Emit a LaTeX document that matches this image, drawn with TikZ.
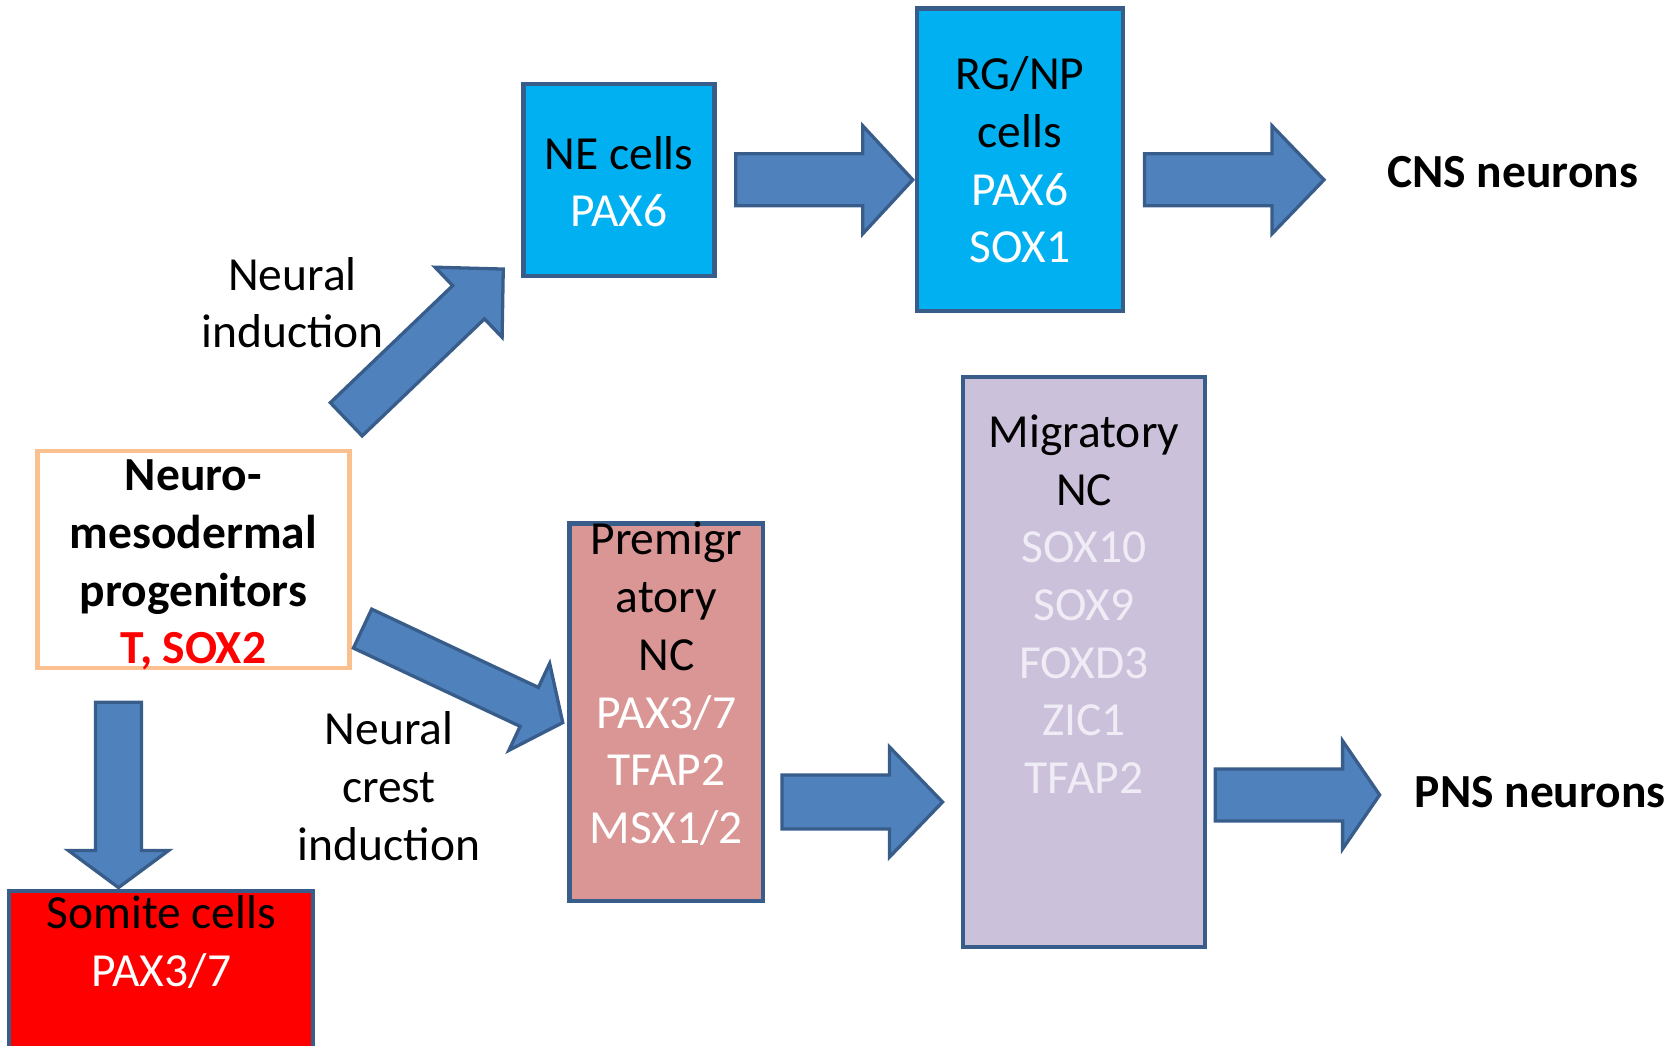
\documentclass[tikz,border=0pt]{standalone}
\usepackage{fontspec}
\setmainfont{Carlito}
\usetikzlibrary{calc}

\definecolor{arrowfill}{RGB}{79,129,189}
\definecolor{arrowline}{RGB}{56,93,138}
\definecolor{cyanfill}{RGB}{0,176,240}
\definecolor{premigfill}{RGB}{217,150,148}
\definecolor{migfill}{RGB}{204,193,218}
\definecolor{peach}{RGB}{250,192,144}
\definecolor{lavtext}{RGB}{240,236,246}

\newcommand{\cellfont}{\fontsize{47.5pt}{57.7pt}\selectfont}

\tikzset{
  cellbox/.style={draw=arrowline, line width=4.5pt, rectangle, inner sep=0pt},
  celltext/.style={anchor=north, align=center, inner sep=0pt, font=\cellfont, execute at begin node=\strut},
  endtext/.style={anchor=base west, inner sep=0pt, font=\cellfont\bfseries},
  blockarrow/.style n args={3}{draw=arrowline, fill=arrowfill, line width=3.3pt, line join=miter,
    to path={($(\tikztostart)!#1!90:(\tikztotarget)$)
      -- ($(\tikztotarget)!#3!(\tikztostart)!#1!90:(\tikztotarget)$)
      -- ($(\tikztotarget)!#3!(\tikztostart)!#2!90:(\tikztotarget)$)
      -- (\tikztotarget)
      -- ($(\tikztotarget)!#3!(\tikztostart)!#2!-90:(\tikztotarget)$)
      -- ($(\tikztotarget)!#3!(\tikztostart)!#1!-90:(\tikztotarget)$)
      -- ($(\tikztostart)!#1!-90:(\tikztotarget)$) -- cycle}}
}

\begin{document}
\begin{tikzpicture}[x=1pt,y=-1pt]
\useasboundingbox (0,0) rectangle (1680,1045);
\clip (0,0) rectangle (1680,1045);

%Shape: Rectangle (progenitors)
\node (nmp) [cellbox, draw=peach, fill=white, minimum width=312pt, minimum height=216.7pt] at (193.5,559.4) {};
%Shape: Rectangle (somite)
\node (somite) [cellbox, fill=red, minimum width=304pt, minimum height=169.2pt] at (161.2,975.4) {};
%Shape: Rectangle (NE)
\node (ne) [cellbox, fill=cyanfill, minimum width=191pt, minimum height=192pt] at (619,179.8) {};
%Shape: Rectangle (RG/NP)
\node (rg) [cellbox, fill=cyanfill, minimum width=205.8pt, minimum height=302.5pt] at (1019.9,159.6) {};
%Shape: Rectangle (premigratory)
\node (premig) [cellbox, fill=premigfill, minimum width=193.8pt, minimum height=377.5pt] at (666.3,712) {};
%Shape: Rectangle (migratory)
\node (mig) [cellbox, fill=migfill, minimum width=242.2pt, minimum height=569.8pt] at (1083.9,661.9) {};

% Text Node
\node (cns) [endtext] at (1387,187) {CNS neurons};
% Text Node
\node (pns) [endtext] at (1414.6,807.5) {PNS neurons};

%Block Arrows
\coordinate (ni-a) at ([shift={(-5.5,-29.5)}]nmp.north east);
\coordinate (ni-b) at ([shift={(-18,-9)}]ne.south west);
\draw [blockarrow={23pt}{48.5pt}{48pt}] (ni-a) to (ni-b);

\coordinate (nci-a) at ([shift={(10.8,-41.4)}]nmp.south east);
\coordinate (nci-b) at ([shift={(-4.4,10.6)}]premig.west);
\draw [blockarrow={21.5pt}{48pt}{37pt}] (nci-a) to (nci-b);

\coordinate (som-a) at ([shift={(-75,32.3)}]nmp.south);
\coordinate (som-b) at ([shift={(0,-1)}]som-a |- somite.north);
\draw [blockarrow={23pt}{50pt}{37pt}] (som-a) to (som-b);

\coordinate (ner-a) at ([shift={(19,0)}]ne.east);
\coordinate (ner-b) at ([shift={(-2,0)}]rg.west |- ne.east);
\draw [blockarrow={26pt}{54pt}{50pt}] (ner-a) to (ner-b);

\coordinate (rgc-a) at ([shift={(19.5,0)}]rg.east |- ne.east);
\coordinate (rgc-b) at ([shift={(-63,0)}]cns.base west |- ne.east);
\draw [blockarrow={26pt}{54pt}{52pt}] (rgc-a) to (rgc-b);

\coordinate (pmm-a) at ([shift={(16.5,90)}]premig.east);
\coordinate (pmm-b) at ([shift={(-18,0)}]mig.west |- pmm-a);
\draw [blockarrow={27pt}{55pt}{53pt}] (pmm-a) to (pmm-b);

\coordinate (mpn-a) at ([shift={(8,133)}]mig.east);
\coordinate (mpn-b) at ([shift={(-35,0)}]pns.base west |- mpn-a);
\draw [blockarrow={26pt}{54pt}{37pt}] (mpn-a) to (mpn-b);

% Text Node
\node (nmp-t) [celltext, font=\cellfont\bfseries] at (193.5,459.6) {Neuro-\\mesodermal\\progenitors\\\textcolor{red}{T, SOX2}};
% Text Node
\node (somite-t) [celltext] at (161.2,895.6) {Somite cells\\\textcolor{white}{PAX3/7}};
% Text Node
\node (ne-t) [celltext] at (619,136.1) {NE cells\\\textcolor{white}{PAX6}};
% Text Node
\node (rg-t) [celltext] at (1019.9,56.6) {RG/NP\\cells\\\textcolor{white}{PAX6}\\\textcolor{white}{SOX1}};
% Text Node
\node (premig-t) [celltext] at (666.4,522.1) {Premigr\\atory\\NC\\\textcolor{white}{PAX3/7}\\\textcolor{white}{TFAP2}\\\textcolor{white}{MSX1/2}};
% Text Node
\node (mig-t) [celltext] at (1084,414.6) {Migratory\\NC\\\textcolor{lavtext}{SOX10}\\\textcolor{lavtext}{SOX9}\\\textcolor{lavtext}{FOXD3}\\\textcolor{lavtext}{ZIC1}\\\textcolor{lavtext}{TFAP2}};
% Text Node
\node (ni-t) [celltext] at (292.5,257.1) {Neural\\induction};
% Text Node
\node (nci-t) [celltext] at (389,711.6) {Neural\\crest\\induction};
\end{tikzpicture}
\end{document}
